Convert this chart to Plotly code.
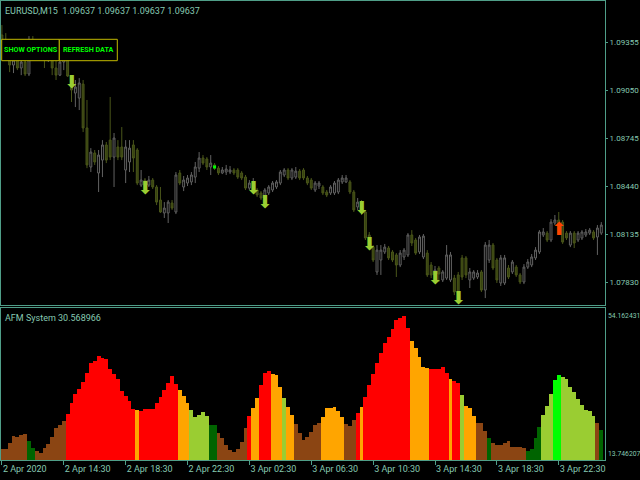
import plotly.graph_objects as go

# ---------------- data ----------------
# M15 bars starting 2 Apr 2020 10:30 (bar index on x)
bars = list(range(156))

open_ = [1.09400, 1.09355, 1.09317, 1.09209, 1.09241, 1.09190, 1.09228, 1.09152, 1.09355, 1.09317,
         1.09304, 1.09330, 1.09272, 1.09291, 1.09190, 1.09145, 1.09228, 1.09253, 1.09139, 1.09031,
         1.08999, 1.09088, 1.08809, 1.08561, 1.08650, 1.08523, 1.08605, 1.08701, 1.08732, 1.08624,
         1.08688, 1.08688, 1.08542, 1.08593, 1.08701, 1.08669, 1.08446, 1.08478, 1.08446, 1.08478,
         1.08434, 1.08351, 1.08269, 1.08269, 1.08332, 1.08275, 1.08523, 1.08434, 1.08459, 1.08466,
         1.08497, 1.08554, 1.08618, 1.08612, 1.08561, 1.08574, 1.08554, 1.08523, 1.08529, 1.08529,
         1.08542, 1.08542, 1.08523, 1.08497, 1.08427, 1.08415, 1.08415, 1.08396, 1.08364, 1.08396,
         1.08415, 1.08434, 1.08459, 1.08510, 1.08542, 1.08491, 1.08497, 1.08535, 1.08542, 1.08491,
         1.08478, 1.08415, 1.08440, 1.08434, 1.08402, 1.08396, 1.08396, 1.08402, 1.08466, 1.08466,
         1.08466, 1.08402, 1.08307, 1.08332, 1.08275, 1.08129, 1.08052, 1.07894, 1.07970, 1.08021,
         1.08046, 1.08021, 1.08002, 1.07938, 1.07989, 1.08002, 1.08129, 1.08097, 1.08021, 1.07989,
         1.08014, 1.07938, 1.07875, 1.07919, 1.07843, 1.07855, 1.07843, 1.07855, 1.07875, 1.07983,
         1.07983, 1.07843, 1.07855, 1.07862, 1.07894, 1.07779, 1.07970, 1.08065, 1.07970, 1.07824,
         1.07824, 1.07919, 1.07894, 1.07925, 1.07875, 1.07830, 1.07925, 1.07938, 1.07983, 1.08021,
         1.08129, 1.08141, 1.08097, 1.08205, 1.08224, 1.08211, 1.08141, 1.08065, 1.08141, 1.08097,
         1.08110, 1.08129, 1.08141, 1.08148, 1.08116, 1.08141]

high_ = [1.09463, 1.09412, 1.09336, 1.09304, 1.09317, 1.09291, 1.09304, 1.09393, 1.09393, 1.09368,
         1.09355, 1.09368, 1.09355, 1.09336, 1.09304, 1.09272, 1.09291, 1.09272, 1.09145, 1.09114,
         1.09126, 1.09114, 1.08987, 1.08681, 1.08669, 1.08669, 1.08732, 1.08720, 1.09006, 1.08777,
         1.08732, 1.08815, 1.08732, 1.08732, 1.08732, 1.08681, 1.08542, 1.08491, 1.08504, 1.08491,
         1.08446, 1.08434, 1.08338, 1.08351, 1.08351, 1.08529, 1.08542, 1.08504, 1.08510, 1.08529,
         1.08593, 1.08656, 1.08637, 1.08624, 1.08637, 1.08586, 1.08567, 1.08561, 1.08574, 1.08567,
         1.08554, 1.08554, 1.08535, 1.08510, 1.08478, 1.08491, 1.08427, 1.08408, 1.08427, 1.08446,
         1.08472, 1.08478, 1.08542, 1.08554, 1.08554, 1.08554, 1.08561, 1.08548, 1.08554, 1.08504,
         1.08491, 1.08472, 1.08472, 1.08446, 1.08415, 1.08446, 1.08472, 1.08491, 1.08510, 1.08510,
         1.08478, 1.08415, 1.08364, 1.08351, 1.08288, 1.08148, 1.08065, 1.08065, 1.08065, 1.08072,
         1.08059, 1.08033, 1.08014, 1.08033, 1.08046, 1.08141, 1.08160, 1.08110, 1.08129, 1.08135,
         1.08033, 1.07957, 1.07932, 1.07932, 1.07906, 1.08065, 1.08021, 1.07875, 1.07894, 1.08002,
         1.07995, 1.07919, 1.07906, 1.07906, 1.07906, 1.08084, 1.08097, 1.08078, 1.07983, 1.08002,
         1.08002, 1.07938, 1.07970, 1.07938, 1.07887, 1.07944, 1.07976, 1.08008, 1.08052, 1.08160,
         1.08173, 1.08154, 1.08230, 1.08256, 1.08275, 1.08224, 1.08154, 1.08154, 1.08154, 1.08154,
         1.08160, 1.08167, 1.08173, 1.08160, 1.08192, 1.08211]

low_ = [1.09304, 1.09272, 1.09164, 1.09158, 1.09177, 1.09145, 1.09139, 1.09139, 1.09272, 1.09253,
        1.09241, 1.09190, 1.09228, 1.09145, 1.09114, 1.09139, 1.09177, 1.09133, 1.08974, 1.08942,
        1.08923, 1.08783, 1.08554, 1.08529, 1.08574, 1.08402, 1.08497, 1.08586, 1.08605, 1.08434,
        1.08605, 1.08605, 1.08459, 1.08529, 1.08529, 1.08446, 1.08434, 1.08427, 1.08434, 1.08421,
        1.08319, 1.08269, 1.08237, 1.08205, 1.08288, 1.08262, 1.08446, 1.08408, 1.08440, 1.08446,
        1.08459, 1.08529, 1.08574, 1.08542, 1.08510, 1.08542, 1.08510, 1.08516, 1.08510, 1.08516,
        1.08510, 1.08485, 1.08478, 1.08415, 1.08415, 1.08402, 1.08370, 1.08351, 1.08345, 1.08383,
        1.08402, 1.08421, 1.08446, 1.08497, 1.08478, 1.08478, 1.08485, 1.08478, 1.08478, 1.08446,
        1.08415, 1.08402, 1.08421, 1.08383, 1.08370, 1.08383, 1.08383, 1.08389, 1.08453, 1.08459,
        1.08389, 1.08275, 1.08288, 1.08256, 1.08097, 1.08033, 1.07957, 1.07875, 1.07875, 1.08008,
        1.07970, 1.07957, 1.07862, 1.07925, 1.07970, 1.07989, 1.08059, 1.08002, 1.08008, 1.07976,
        1.07862, 1.07855, 1.07855, 1.07830, 1.07830, 1.07843, 1.07830, 1.07747, 1.07741, 1.07843,
        1.07855, 1.07792, 1.07843, 1.07849, 1.07767, 1.07728, 1.07951, 1.07906, 1.07824, 1.07805,
        1.07811, 1.07849, 1.07881, 1.07862, 1.07817, 1.07817, 1.07913, 1.07925, 1.07970, 1.08008,
        1.08116, 1.08084, 1.08084, 1.08192, 1.08180, 1.08072, 1.08097, 1.08052, 1.08046, 1.08084,
        1.08097, 1.08116, 1.08129, 1.08097, 1.08002, 1.08129]

close_ = [1.09355, 1.09317, 1.09209, 1.09241, 1.09190, 1.09228, 1.09152, 1.09355, 1.09317, 1.09304,
          1.09330, 1.09272, 1.09291, 1.09190, 1.09145, 1.09228, 1.09253, 1.09139, 1.09050, 1.09069,
          1.09095, 1.08809, 1.08574, 1.08656, 1.08593, 1.08637, 1.08701, 1.08605, 1.08624, 1.08745,
          1.08624, 1.08624, 1.08688, 1.08681, 1.08618, 1.08459, 1.08478, 1.08446, 1.08478, 1.08434,
          1.08338, 1.08275, 1.08300, 1.08338, 1.08300, 1.08510, 1.08459, 1.08478, 1.08491, 1.08510,
          1.08561, 1.08618, 1.08586, 1.08561, 1.08586, 1.08554, 1.08523, 1.08542, 1.08548, 1.08542,
          1.08523, 1.08497, 1.08491, 1.08427, 1.08459, 1.08466, 1.08383, 1.08364, 1.08415, 1.08434,
          1.08459, 1.08466, 1.08529, 1.08542, 1.08491, 1.08542, 1.08535, 1.08491, 1.08491, 1.08459,
          1.08427, 1.08459, 1.08459, 1.08396, 1.08383, 1.08434, 1.08459, 1.08478, 1.08491, 1.08491,
          1.08402, 1.08288, 1.08338, 1.08275, 1.08110, 1.08052, 1.07970, 1.08033, 1.08033, 1.08052,
          1.07983, 1.07970, 1.07938, 1.08014, 1.08033, 1.08129, 1.08078, 1.08014, 1.08116, 1.08122,
          1.07875, 1.07875, 1.07906, 1.07881, 1.07894, 1.08002, 1.08002, 1.07767, 1.07760, 1.07862,
          1.07875, 1.07894, 1.07894, 1.07887, 1.07779, 1.08065, 1.08065, 1.07919, 1.07843, 1.07983,
          1.07983, 1.07862, 1.07957, 1.07875, 1.07830, 1.07925, 1.07957, 1.07989, 1.08033, 1.08148,
          1.08148, 1.08097, 1.08211, 1.08224, 1.08192, 1.08084, 1.08110, 1.08141, 1.08078, 1.08141,
          1.08148, 1.08148, 1.08160, 1.08110, 1.08173, 1.08192]

# signal arrows of the indicator (bar index, price)
sell_bars = [18, 37, 65, 68, 93, 95, 112, 118]
sell_prices = [1.09091, 1.08415, 1.08415, 1.08329, 1.08288, 1.08065, 1.07843, 1.07722]
buy_bars = [144]
buy_prices = [1.08160]
dot_bars = [55]
dot_prices = [1.08561]

# AFM System histogram
afm_values = [16.67, 16.67, 18.35, 20.05, 19.86, 20.31, 20.74, 18.80, 17.02, 16.22,
              15.69, 16.94, 18.00, 19.94, 22.33, 23.05, 24.12, 25.98, 28.82, 31.30,
              32.55, 34.49, 36.96, 39.62, 39.99, 41.40, 40.87, 40.52, 37.94, 36.61,
              35.20, 32.17, 30.76, 29.35, 27.39, 27.04, 26.70, 27.23, 27.39, 27.39,
              28.82, 30.50, 32.28, 34.30, 36.08, 33.95, 32.36, 30.76, 28.98, 27.04,
              25.26, 25.79, 26.43, 25.45, 23.05, 23.05, 20.85, 19.68, 17.73, 16.41,
              15.95, 16.67, 18.61, 22.33, 25.45, 27.65, 30.31, 33.69, 36.80, 37.49,
              36.61, 36.35, 33.08, 30.31, 27.92, 25.63, 23.32, 20.85, 19.06, 19.78,
              21.19, 23.13, 23.66, 25.26, 27.49, 27.65, 27.84, 26.77, 25.26, 23.32,
              22.87, 24.38, 26.16, 27.92, 30.42, 33.69, 36.61, 39.46, 42.28, 44.78,
              46.53, 48.50, 50.97, 51.42, 52.04, 48.77, 45.39, 43.45, 41.21, 38.55,
              38.13, 37.86, 37.86, 37.86, 38.40, 36.80, 35.36, 34.75, 34.30, 31.03,
              28.10, 27.65, 25.45, 23.66, 23.50, 21.54, 19.68, 18.35, 17.73, 17.65,
              18.19, 18.80, 17.28, 17.12, 17.28, 16.94, 16.14, 16.75, 19.52, 22.60,
              25.63, 28.10, 31.30, 35.02, 36.35, 35.74, 35.20, 33.24, 31.91, 29.89,
              28.37, 27.04, 26.77, 25.45, 23.66, 21.72]
# state of each bar: B weak-down, G weak-up, R strong-down, O down, Y up, L strong-up
afm_state = ("BBBBBBB" "GG" "BBBBBBBB" "RRRRRRRRRRRRRRRRRR" "O" "RRRRRRRRRR" "OOO" "YYYYY"
             "GG" "BBBBBBBB" "R" "OO" "RRR" "OOO" "Y" "OO" "BBBBBBB" "OOOOOO" "BBB" "R" "O"
             "RRRRRRRRRRRR" "OOOOO" "RRRRR" "O" "RR" "Y" "OOO" "BBB" "G" "BBBBBBBBB" "GGGG"
             "YYY" "LL" "YYYYYYYYY" "B" "G")

tick_bars = [0, 16, 32, 48, 64, 80, 96, 112, 128, 144]
tick_labels = ["2 Apr 2020", "2 Apr 14:30", "2 Apr 18:30", "2 Apr 22:30", "3 Apr 02:30",
               "3 Apr 06:30", "3 Apr 10:30", "3 Apr 14:30", "3 Apr 18:30", "3 Apr 22:30"]
price_ticks = [1.09355, 1.09050, 1.08745, 1.08440, 1.08135, 1.07830]
price_range = [1.07684, 1.09616]
afm_range = [13.746207, 54.162431]

# ---------------- styling ----------------
state_colors = {"B": "#8B4513", "G": "#006400", "R": "#FF0000",
                "O": "#FFA500", "Y": "#9ACD32", "L": "#00FF00"}
FG = "#86c9b1"
LINE = "#4f9e88"
FONT = "Roboto, Liberation Sans Narrow, sans-serif"

W, H = 640, 480
ML, MR, MT, MB = 1, 35, 1, 20
PW, PH = W - ML - MR, H - MT - MB


def px(xp):
    return (xp - ML) / PW


def py(yp):
    return (H - MB - yp) / PH


fig = go.Figure()

fig.add_trace(go.Candlestick(
    x=bars, open=open_, high=high_, low=low_, close=close_,
    increasing=dict(line=dict(color="#626262", width=1), fillcolor="#000000"),
    decreasing=dict(line=dict(color="#4a561a", width=1), fillcolor="#36410f"),
    whiskerwidth=0, hoverinfo="skip", xaxis="x", yaxis="y"))

fig.add_trace(go.Scatter(
    x=dot_bars, y=dot_prices, mode="markers",
    marker=dict(color="#00FF00", size=3, symbol="square"),
    hoverinfo="skip", xaxis="x", yaxis="y"))

fig.add_trace(go.Scatter(
    x=sell_bars, y=sell_prices, mode="text", text=["⬇"] * len(sell_bars),
    textfont=dict(color="#9ACD32", size=18, family="DejaVu Sans"),
    hoverinfo="skip", xaxis="x", yaxis="y"))

fig.add_trace(go.Scatter(
    x=buy_bars, y=buy_prices, mode="text", text=["⬆"] * len(buy_bars),
    textfont=dict(color="#FF4500", size=18, family="DejaVu Sans"),
    hoverinfo="skip", xaxis="x", yaxis="y"))

fig.add_trace(go.Bar(
    x=bars, y=afm_values,
    marker=dict(color=[state_colors[s] for s in afm_state], line=dict(width=0)),
    hoverinfo="skip", xaxis="x2", yaxis="y2"))

xr = [-0.233, 155.96]
main_bottom = py(305)
sub_top = py(308)

axis_common = dict(showgrid=False, zeroline=False, showline=True, mirror=True,
                   linecolor=LINE, linewidth=1, automargin=False)

fig.update_layout(
    width=W, height=H,
    margin=dict(l=ML, r=MR, t=MT, b=MB, pad=0, autoexpand=False),
    paper_bgcolor="#000000", plot_bgcolor="#000000",
    showlegend=False, bargap=0, hovermode=False,
    font=dict(family=FONT, size=9, color=FG),
    xaxis=dict(domain=[0, 1], anchor="y", range=xr, showticklabels=False, ticks="",
               rangeslider=dict(visible=False), **axis_common),
    yaxis=dict(domain=[main_bottom, 1], anchor="x", side="right", range=price_range,
               tickvals=price_ticks, ticktext=["%.5f" % v for v in price_ticks],
               ticks="outside", ticklen=2, tickcolor=LINE,
               tickfont=dict(family=FONT, size=8, color=FG), **axis_common),
    xaxis2=dict(domain=[0, 1], anchor="y2", range=xr, tickvals=tick_bars, ticktext=tick_labels,
                ticks="outside", ticklen=4, tickcolor=LINE, ticklabelposition="outside right",
                tickangle=0, tickfont=dict(family=FONT, size=9, color=FG), **axis_common),
    yaxis2=dict(domain=[0, sub_top], anchor="x2", side="right", range=afm_range,
                showticklabels=False, ticks="", **axis_common),
)

annotations = [
    dict(text="EURUSD,M15  1.09637 1.09637 1.09637 1.09637", x=px(3), y=py(10.5),
         xanchor="left", yanchor="middle", size=9),
    dict(text="AFM System 30.568966", x=px(3), y=py(317.5), xanchor="left",
         yanchor="middle", size=9),
    dict(text="%.6f" % afm_range[1], x=1, xshift=1, y=py(316), xanchor="left",
         yanchor="middle", size=6.8),
    dict(text="%.6f" % afm_range[0], x=1, xshift=1, y=py(454), xanchor="left",
         yanchor="middle", size=6.8),
]
for a in annotations:
    s = a.pop("size")
    a.update(xref="paper", yref="paper", showarrow=False,
             font=dict(family=FONT, size=s, color=FG))

btn_font = dict(family="Roboto, sans-serif", size=7.2, color="#00FF00", weight="bold")
annotations += [
    dict(text="SHOW OPTIONS", x=px(30.5), y=py(50), xref="paper", yref="paper",
         showarrow=False, font=btn_font, xanchor="center", yanchor="middle"),
    dict(text="REFRESH DATA", x=px(88.3), y=py(50), xref="paper", yref="paper",
         showarrow=False, font=btn_font, xanchor="center", yanchor="middle"),
]
fig.update_layout(annotations=annotations)

shapes = [
    dict(type="rect", xref="paper", yref="paper", x0=px(1.7), x1=px(59.3),
         y0=py(60.7), y1=py(39.3), fillcolor="#000000", line=dict(color="#c2b800", width=1),
         layer="above"),
    dict(type="rect", xref="paper", yref="paper", x0=px(59.3), x1=px(117.3),
         y0=py(60.7), y1=py(39.3), fillcolor="#000000", line=dict(color="#c2b800", width=1),
         layer="above"),
]
fig.update_layout(shapes=shapes)

fig.write_html(
    "out.html",
    config={"displayModeBar": False, "staticPlot": True},
    post_script="document.body.style.margin='0';document.body.style.padding='0';"
                "document.body.style.background='#000';")
